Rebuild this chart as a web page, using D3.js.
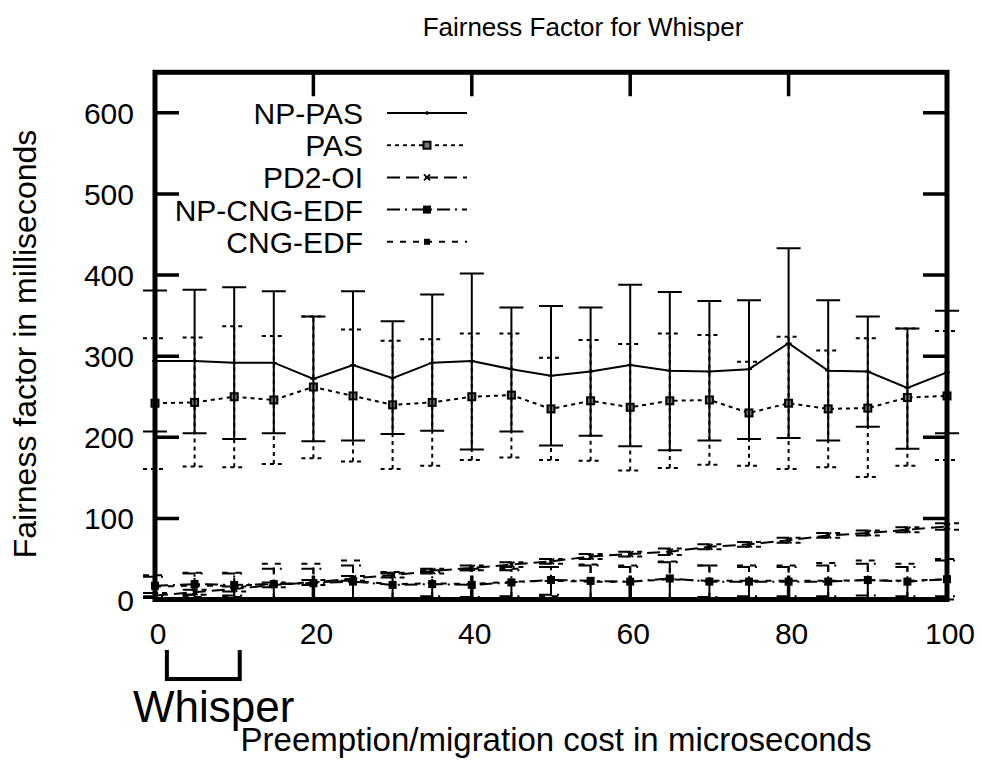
<!DOCTYPE html>
<html>
<head>
<meta charset="utf-8">
<script src="https://cdn.jsdelivr.net/npm/d3@7"></script>
<style>
  body { margin: 0; background: #fff; }
  text { font-family: "Liberation Sans", Arial, Helvetica, sans-serif; fill: #000; }
</style>
</head>
<body>
<svg width="981" height="769"></svg>
<script>
// preemption/migration cost (microseconds)
var costs = [0, 5, 10, 15, 20, 25, 30, 35, 40, 45, 50, 55, 60, 65, 70, 75, 80, 85, 90, 95, 100]

var npPas   = [294, 294, 292, 292, 272, 289, 273, 292, 294, 284, 276, 281, 289, 282, 281, 284, 316, 282, 281, 261, 280]
var npPasHi = [381, 382, 385, 380, 349, 380, 343, 376, 402, 360, 362, 360, 388, 379, 368, 369, 433, 369, 349, 334, 356]
var npPasLo = [207, 205, 198, 205, 195, 196, 204, 208, 185, 207, 190, 202, 189, 184, 196, 198, 199, 196, 213, 186, 205]

var pas   = [242, 243, 250, 246, 262, 251, 240, 243, 250, 252, 235, 245, 237, 245, 246, 230, 242, 235, 236, 249, 251]
var pasHi = [322, 323, 337, 325, 349, 333, 319, 321, 328, 328, 298, 320, 315, 328, 326, 293, 324, 307, 322, 334, 331]
var pasLo = [161, 164, 163, 167, 174, 170, 161, 165, 172, 175, 172, 171, 159, 162, 166, 165, 161, 163, 151, 165, 172]

var pd2   = [5, 9, 13, 18, 21, 26, 30, 35, 39, 43, 47, 53, 56, 59, 65, 68, 73, 79, 82, 86, 90]
var pd2Hi = [8, 12, 16, 21, 24, 29, 33, 38, 42, 46, 50, 56, 59, 63, 68, 71, 76, 82, 85, 89, 94]
var pd2Lo = [2, 6, 10, 15, 18, 23, 27, 32, 36, 40, 44, 50, 53, 55, 62, 65, 70, 76, 79, 83, 86]

var npCng   = [17, 19, 18, 19, 20, 22, 18, 19, 18, 21, 24, 23, 22, 26, 22, 22, 22, 22, 24, 22, 25]
var npCngHi = [28, 32, 32, 38, 38, 42, 32, 34, 36, 36, 40, 42, 40, 46, 42, 40, 40, 42, 44, 40, 48]
var npCngLo = [4, 6, 5, 0, 0, 2, 2, 4, 3, 4, 6, 2, 2, 2, 3, 4, 4, 4, 5, 4, 4]

var cng   = [16, 17, 17, 19, 21, 23, 19, 20, 19, 22, 23, 22, 22, 25, 23, 23, 23, 23, 24, 23, 25]
var cngHi = [30, 33, 33, 44, 44, 48, 34, 36, 38, 38, 40, 43, 42, 47, 42, 42, 42, 45, 48, 44, 50]
var cngLo = [2, 3, 3, 0, 0, 1, 1, 2, 2, 2, 4, 1, 1, 0, 1, 2, 1, 2, 2, 2, 0]

var seriesNames = ['NP-PAS', 'PAS', 'PD2-OI', 'NP-CNG-EDF', 'CNG-EDF']
var xTicks = [0, 20, 40, 60, 80, 100]
var yTicks = [0, 100, 200, 300, 400, 500, 600]

var series = [
  { name: seriesNames[0], y: npPas, hi: npPasHi, lo: npPasLo, dash: null, marker: 'dot' },
  { name: seriesNames[1], y: pas, hi: pasHi, lo: pasLo, dash: '4,4', marker: 'box' },
  { name: seriesNames[2], y: pd2, hi: pd2Hi, lo: pd2Lo, dash: '13,6', marker: 'cross' },
  { name: seriesNames[3], y: npCng, hi: npCngHi, lo: npCngLo, dash: '13,5,2,5', marker: 'square' },
  { name: seriesNames[4], y: cng, hi: cngHi, lo: cngLo, dash: '6,7', marker: 'small' }
]

var svg = d3.select('svg')

var x = d3.scaleLinear().domain([0, 100]).range([155, 947])
var y = d3.scaleLinear().domain([0, 650]).range([599.5, 72.3])

var capW = 12

function drawMarker(g, kind, cx, cy) {
  if (kind === 'dot') {
    g.append('path').attr('d', `M${cx - 3},${cy}H${cx + 3}M${cx},${cy - 2}V${cy + 2}`)
      .attr('stroke', '#000').attr('stroke-width', 1.5)
  } else if (kind === 'box') {
    g.append('rect').attr('x', cx - 3.5).attr('y', cy - 3.5).attr('width', 7).attr('height', 7)
      .attr('fill', '#777').attr('stroke', '#000').attr('stroke-width', 2)
  } else if (kind === 'cross') {
    g.append('path').attr('d', `M${cx - 3},${cy - 3}L${cx + 3},${cy + 3}M${cx - 3},${cy + 3}L${cx + 3},${cy - 3}`)
      .attr('stroke', '#000').attr('stroke-width', 1.8)
  } else if (kind === 'square') {
    g.append('rect').attr('x', cx - 4).attr('y', cy - 4).attr('width', 8).attr('height', 8).attr('fill', '#000')
  } else {
    g.append('rect').attr('x', cx - 3).attr('y', cy - 3).attr('width', 6).attr('height', 6).attr('fill', '#000')
  }
}

var line = d3.line().x((d, i) => x(costs[i])).y((d) => y(d))

// series, bottom ones first
series.slice().reverse().forEach(function (s) {
  var g = svg.append('g')

  costs.forEach(function (c, i) {
    var cx = x(c)
    g.append('path')
      .attr('d', `M${cx},${y(s.lo[i])}V${y(s.hi[i])}M${cx - capW},${y(s.hi[i])}H${cx + capW}M${cx - capW},${y(s.lo[i])}H${cx + capW}`)
      .attr('fill', 'none')
      .attr('stroke', '#000')
      .attr('stroke-width', 2)
      .attr('stroke-dasharray', s.dash)
  })

  g.append('path')
    .attr('d', line(s.y))
    .attr('fill', 'none')
    .attr('stroke', '#000')
    .attr('stroke-width', 2)
    .attr('stroke-dasharray', s.dash)

  s.y.forEach(function (v, i) { drawMarker(g, s.marker, x(costs[i]), y(v)) })
})

// frame and ticks (gnuplot style, inside, mirrored)
svg.append('rect')
  .attr('x', x(0)).attr('y', y(650))
  .attr('width', x(100) - x(0)).attr('height', y(0) - y(650))
  .attr('fill', 'none').attr('stroke', '#000').attr('stroke-width', 5)

var tickLen = 24
svg.append('g').selectAll('path')
  .data(yTicks.slice(1))
  .enter().append('path')
  .attr('d', (d) => `M${x(0)},${y(d)}h${tickLen}M${x(100)},${y(d)}h${-tickLen}`)
  .attr('stroke', '#000').attr('stroke-width', 3.5)

svg.append('g').selectAll('path')
  .data(xTicks.slice(1, -1))
  .enter().append('path')
  .attr('d', (d) => `M${x(d)},${y(650)}v${tickLen}M${x(d)},${y(0)}v${-tickLen}`)
  .attr('stroke', '#000').attr('stroke-width', 3.5)

svg.append('g').selectAll('text')
  .data(yTicks)
  .enter().append('text')
  .attr('x', 134)
  .attr('y', (d) => y(d) + 11)
  .attr('text-anchor', 'end')
  .attr('font-size', 30)
  .text((d) => d)

svg.append('g').selectAll('text')
  .data(xTicks)
  .enter().append('text')
  .attr('x', (d) => x(d) + 3)
  .attr('y', 644)
  .attr('text-anchor', 'middle')
  .attr('font-size', 30)
  .text((d) => d)

// legend
var legend = svg.append('g')
series.forEach(function (s, i) {
  var ly = 113 + i * 32.2
  legend.append('text')
    .attr('x', 363).attr('y', ly + 11)
    .attr('text-anchor', 'end')
    .attr('font-size', 30)
    .text(s.name)
  legend.append('line')
    .attr('x1', 387).attr('x2', 467).attr('y1', ly).attr('y2', ly)
    .attr('stroke', '#000').attr('stroke-width', 2)
    .attr('stroke-dasharray', s.dash)
  drawMarker(legend, s.marker, 427, ly)
})

// titles
svg.append('text')
  .attr('x', 583).attr('y', 36)
  .attr('text-anchor', 'middle')
  .attr('font-size', 26)
  .text('Fairness Factor for Whisper')

svg.append('text')
  .attr('x', 556).attr('y', 751)
  .attr('text-anchor', 'middle')
  .attr('font-size', 33)
  .text('Preemption/migration cost in microseconds')

svg.append('text')
  .attr('transform', 'translate(36, 344) rotate(-90)')
  .attr('text-anchor', 'middle')
  .attr('font-size', 32)
  .text('Fairness factor in milliseconds')

// Whisper bracket annotation
svg.append('path')
  .attr('d', `M${x(1.5)},650V679H${x(10.7)}V650`)
  .attr('fill', 'none').attr('stroke', '#000').attr('stroke-width', 4)

svg.append('text')
  .attr('x', 133).attr('y', 722)
  .attr('font-family', '"Open Sans", sans-serif')
  .attr('font-size', 44)
  .text('Whisper')
</script>
</body>
</html>
